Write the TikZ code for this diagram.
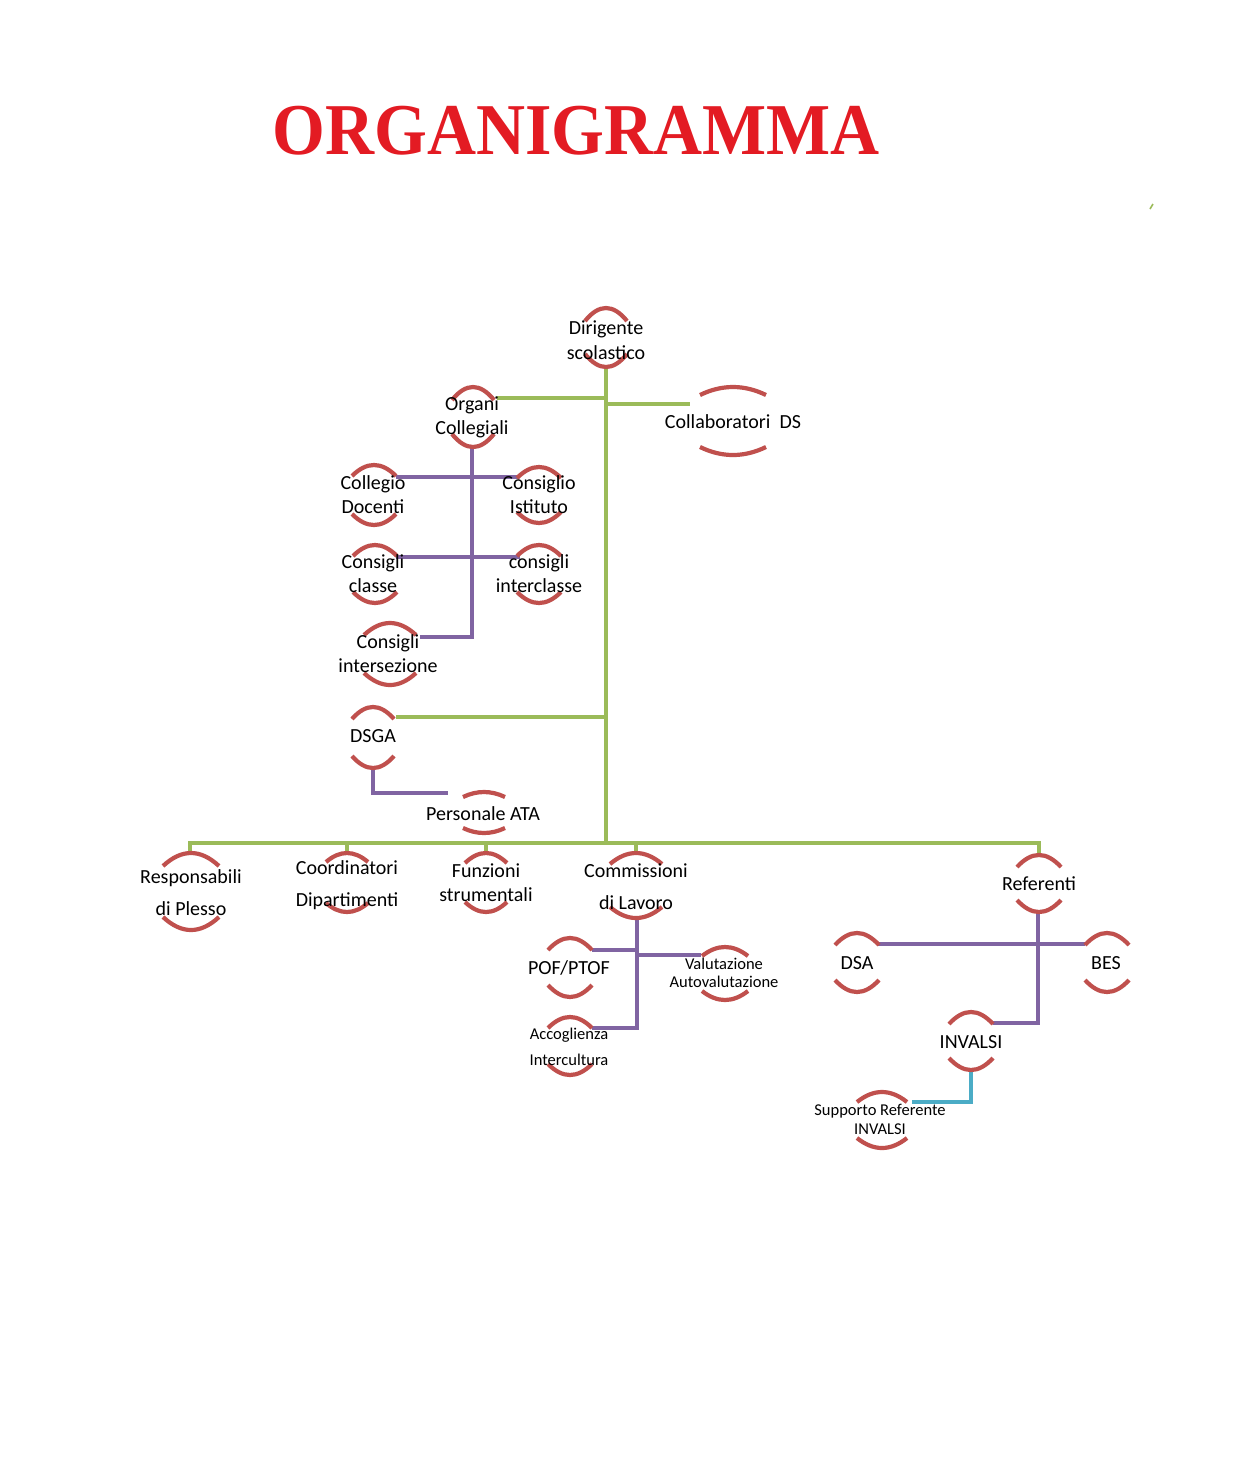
\documentclass[tikz,border=0pt]{standalone}
\usepackage{fontspec}
\setmainfont{Carlito}
\newfontfamily\titlefont{Liberation Serif}
\usepackage{graphicx}
\definecolor{arcred}{HTML}{C0504D}
\definecolor{lgreen}{HTML}{9BBB59}
\definecolor{lpurple}{HTML}{8064A2}
\definecolor{lcyan}{HTML}{4BACC6}
\definecolor{titlered}{HTML}{E31B23}
\tikzset{
  arcst/.style={draw=arcred, line width=2.1pt},
  gline/.style={draw=lgreen, line width=2pt},
  pline/.style={draw=lpurple, line width=2pt},
  cline/.style={draw=lcyan, line width=2pt},
  lbl/.style={align=center, inner sep=0pt, yshift=-1pt, font=\fontsize{10}{12.5}\selectfont},
  lblnarrow/.style={align=center, inner sep=0pt, yshift=-1pt, font=\fontsize{10}{11.75}\selectfont},
  lblwide/.style={align=center, inner sep=0pt, yshift=-1pt, font=\fontsize{10}{16}\selectfont},
  lblsmall/.style={align=center, inner sep=0pt, yshift=-1pt, font=\fontsize{8.25}{#1}\selectfont},
}
\newcommand\orgarcs[5]{%
  \draw[arcst] ({#1-#4},{#2+#5}) .. controls ({#1-#4/3},{#2-#5/3}) and ({#1+#4/3},{#2-#5/3}) .. ({#1+#4},{#2+#5});
  \draw[arcst] ({#1-#4},{#3-#5}) .. controls ({#1-#4/3},{#3+#5/3}) and ({#1+#4/3},{#3+#5/3}) .. ({#1+#4},{#3-#5});
}
\begin{document}
\begin{tikzpicture}[x=0.5pt,y=-0.5pt]
\fill[white] (0,0) rectangle (1240,1458);
\useasboundingbox (0,0) rectangle (1240,1458);

% title
\node[anchor=base, text=titlered, inner sep=0pt, font=\titlefont\bfseries\fontsize{36.5}{40}\selectfont] (title) at (576,154) {\scalebox{0.93}[1]{ORGANIGRAMMA}};
\draw[lgreen, line width=0.8pt] (1150,209) -- (1153,204);

% connection points
\coordinate (dir-s) at (606,367);
\coordinate (bar) at (606,843);
\coordinate (org-e) at (497,398);
\coordinate (tr-org) at (606,398);
\coordinate (tr-coll) at (606,404);
\coordinate (coll-w) at (690,404);
\coordinate (dsga-e) at (396,717);
\coordinate (tr-dsga) at (606,717);
\coordinate (resp-n) at (190,853);
\coordinate (coord-n) at (347,853);
\coordinate (funz-n) at (486,853);
\coordinate (comm-n) at (636,853);
\coordinate (ref-n) at (1039,855);
\coordinate (org-s) at (472,447);
\coordinate (inters-e) at (420,637);
\coordinate (collegio-e) at (396,477);
\coordinate (istituto-w) at (518,477);
\coordinate (classe-e) at (396,557);
\coordinate (intercl-w) at (520,557);
\coordinate (dsga-s) at (373,768);
\coordinate (ata-w) at (448,793);
\coordinate (comm-s) at (637,917);
\coordinate (accog-e) at (592,1028);
\coordinate (pof-e) at (592,950);
\coordinate (valut-w) at (701,955);
\coordinate (ref-s) at (1038,912);
\coordinate (invalsi-e) at (993,1023);
\coordinate (dsa-e) at (878,944);
\coordinate (bes-w) at (1085,944);
\coordinate (invalsi-s) at (971,1070);
\coordinate (supp-e) at (912,1102);

% green connectors
\draw[gline] (dir-s) -- (bar);
\draw[gline] (org-e) -- (tr-org);
\draw[gline] (tr-coll) -- (coll-w);
\draw[gline] (dsga-e) -- (tr-dsga);
\draw[gline] (resp-n) |- (bar) -| (ref-n);
\draw[gline] (coord-n) -- (coord-n |- bar);
\draw[gline] (funz-n) -- (funz-n |- bar);
\draw[gline] (comm-n) -- (comm-n |- bar);

% purple connectors
\draw[pline] (org-s) |- (inters-e);
\draw[pline] (collegio-e) -- (istituto-w);
\draw[pline] (classe-e) -- (intercl-w);
\draw[pline] (dsga-s) |- (ata-w);
\draw[pline] (comm-s) |- (accog-e);
\draw[pline] (pof-e) -- (pof-e -| comm-s);
\draw[pline] (valut-w -| comm-s) -- (valut-w);
\draw[pline] (ref-s) |- (invalsi-e);
\draw[pline] (dsa-e) -- (bes-w);
% cyan connector
\draw[cline] (invalsi-s) |- (supp-e);

% arcs
\orgarcs{606}{308}{367}{21}{13}
\orgarcs{473}{387}{447}{21}{13}
\orgarcs{733}{387}{455}{33}{8}
\orgarcs{374}{465}{525}{22}{11}
\orgarcs{539}{467}{523}{22}{11}
\orgarcs{375}{545}{603}{22}{11}
\orgarcs{539}{545}{603}{22}{11}
\orgarcs{390}{623}{685}{26}{12}
\orgarcs{373}{707}{768}{21}{12}
\orgarcs{484}{792}{833}{21}{5}
\orgarcs{191}{853}{930}{28}{13}
\orgarcs{347}{853}{912}{21}{9}
\orgarcs{486}{853}{912}{21}{10}
\orgarcs{636}{853}{918}{26}{11}
\orgarcs{1039}{855}{912}{22}{12}
\orgarcs{570}{938}{997}{22}{12}
\orgarcs{725}{947}{1000}{23}{9}
\orgarcs{570}{1017}{1075}{22}{11}
\orgarcs{857}{933}{992}{22}{12}
\orgarcs{1107}{933}{992}{22}{12}
\orgarcs{971}{1012}{1070}{22}{12}
\orgarcs{882}{1092}{1148}{25}{10}

% labels
\node[lbl] (dir) at (606,340) {\strut Dirigente\\\strut scolastico};
\node[lblnarrow] (org) at (472,416) {\strut Organi\\\strut Collegiali};
\node[lbl] (coll) at (733,421) {\strut Collaboratori\ \ DS};
\node[lblnarrow] (collegio) at (373,495) {\strut Collegio\\\strut Docenti};
\node[lblnarrow] (istituto) at (539,495) {\strut Consiglio\\\strut Istituto};
\node[lblnarrow] (classe) at (373,574) {\strut Consigli\\\strut classe};
\node[lblnarrow] (intercl) at (539,574) {\strut consigli\\\strut interclasse};
\node[lblnarrow] (inters) at (388,654) {\strut Consigli\\\strut intersezione};
\node[lbl] (dsga) at (373,735) {\strut DSGA};
\node[lbl] (ata) at (483,813) {\strut Personale ATA};
\node[lblwide] (resp) at (191,891) {\strut Responsabili\\\strut di Plesso};
\node[lblwide] (coord) at (347,882) {\strut Coordinatori\\\strut Dipartimenti};
\node[lblnarrow] (funz) at (486,883) {\strut Funzioni\\\strut strumentali};
\node[lblwide] (comm) at (636,885) {\strut Commissioni\\\strut di Lavoro};
\node[lbl] (ref) at (1039,883) {\strut Referenti};
\node[lbl] (pof) at (569,967) {\strut POF/PTOF};
\node[lblsmall=9] (valut) at (724,973) {\strut Valutazione\\\strut Autovalutazione};
\node[lblsmall=13] (accog) at (569,1045) {\strut Accoglienza\\\strut Intercultura};
\node[lbl] (dsa) at (857,962) {\strut DSA};
\node[lbl] (bes) at (1106,962) {\strut BES};
\node[lbl] (invalsi) at (971,1041) {\strut INVALSI};
\node[lblsmall=9.5] (supp) at (880,1119) {\strut Supporto Referente\\\strut INVALSI};
\end{tikzpicture}
\end{document}
